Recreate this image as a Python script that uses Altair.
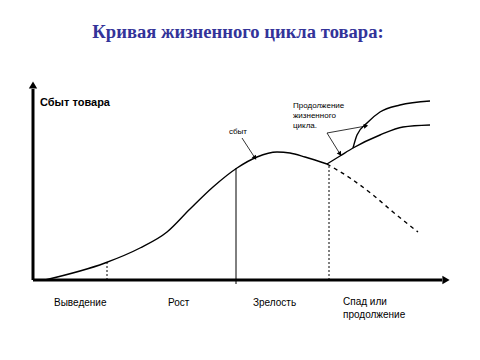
import math
import altair as alt
import pandas as pd

# Diagram coordinates: x = time, y = sales (origin at the axes crossing)
main_x = [12, 72, 107, 134, 157, 180, 204, 224, 244, 257, 272, 294]
main_y = [0, 17, 32, 48, 71, 93, 112, 123, 128, 127, 123, 116]

lower_x = [294, 307, 320, 347, 370, 397]
lower_y = [116, 124, 132, 145, 153, 155]

upper_x = [320, 324, 334, 347, 367, 397]
upper_y = [132, 145, 157, 168, 175, 179]

decline_x = [294, 317, 340, 360, 385]
decline_y = [116, 102, 85, 68, 48]

# stage boundaries
bound_x = [74, 203, 296]
bound_top = [18, 112, 115]
bound_bottom = [0, -4, 0]
bound_dash = ["dashed", "solid", "dashed"]

# axes
axis_len_x = 413
axis_len_y = 195

# annotation arrows (from -> to)
arrow_x1 = [209, 294, 294]
arrow_y1 = [142, 147, 147]
arrow_x2 = [222, 307, 333]
arrow_y2 = [122, 126, 154]

stage_labels = ["Выведение", "Рост", "Зрелость", "Спад или", "продолжение"]
stage_x = [21, 135, 220, 310, 310]
stage_y = [-23, -23, -23, -22, -35]

note_lines = ["Продолжение", "жизненного", "цикла."]
note_x = [260, 260, 260]
note_y = [174, 164, 154]

title_text = "Кривая жизненного цикла товара:"
ylabel_text = "Сбыт товара"
curve_label = "сбыт"

X = alt.Scale(domain=[-25, 439], nice=False, zero=False)
Y = alt.Scale(domain=[-72, 272], nice=False, zero=False)

def xe(f):
    return alt.X(f, type="quantitative", scale=X, axis=None)

def ye(f):
    return alt.Y(f, type="quantitative", scale=Y, axis=None)

def line_df(xs, ys):
    return pd.DataFrame({"x": xs, "y": ys})

main = alt.Chart(line_df(main_x, main_y)).mark_line(
    color="black", strokeWidth=1.4, interpolate="monotone"
).encode(x=xe("x"), y=ye("y"))

lower = alt.Chart(line_df(lower_x, lower_y)).mark_line(
    color="black", strokeWidth=1.4, interpolate="monotone"
).encode(x=xe("x"), y=ye("y"))

upper = alt.Chart(line_df(upper_x, upper_y)).mark_line(
    color="black", strokeWidth=1.4, interpolate="monotone"
).encode(x=xe("x"), y=ye("y"))

decline = alt.Chart(line_df(decline_x, decline_y)).mark_line(
    color="black", strokeWidth=1.4, strokeDash=[4, 4], interpolate="monotone"
).encode(x=xe("x"), y=ye("y"))

bounds = pd.DataFrame({"x": bound_x, "y": bound_bottom, "y2": bound_top, "d": bound_dash})
bound_dashed = alt.Chart(bounds[bounds.d == "dashed"]).mark_rule(
    color="black", strokeWidth=1, strokeDash=[2, 2]
).encode(x=xe("x"), y=ye("y"), y2="y2")
bound_solid = alt.Chart(bounds[bounds.d == "solid"]).mark_rule(
    color="black", strokeWidth=1
).encode(x=xe("x"), y=ye("y"), y2="y2")

axes_df = pd.DataFrame({"x": [0, 0], "y": [0, 0], "x2": [axis_len_x - 4, 0], "y2": [0, axis_len_y - 4]})
axes = alt.Chart(axes_df).mark_rule(color="black", strokeWidth=3).encode(
    x=xe("x"), y=ye("y"), x2="x2", y2="y2"
)
axis_heads = alt.Chart(pd.DataFrame({"x": [axis_len_x, 0], "y": [0, axis_len_y], "a": [90, 0]})).mark_point(
    shape="triangle-up", filled=True, color="black", size=70, opacity=1
).encode(x=xe("x"), y=ye("y"), angle=alt.Angle("a:Q", scale=None))

arr = pd.DataFrame({"x": arrow_x1, "y": arrow_y1, "x2": arrow_x2, "y2": arrow_y2})
arr["a"] = [
    (math.degrees(math.atan2(x2 - x1, y2 - y1)) + 360) % 360
    for x1, y1, x2, y2 in zip(arrow_x1, arrow_y1, arrow_x2, arrow_y2)
]
arrows = alt.Chart(arr).mark_rule(color="black", strokeWidth=0.8).encode(
    x=xe("x"), y=ye("y"), x2="x2", y2="y2"
)
arrow_heads = alt.Chart(arr).mark_point(
    shape="triangle-up", filled=True, color="black", size=25, opacity=1
).encode(x=xe("x2"), y=ye("y2"), angle=alt.Angle("a:Q", scale=None))

stages = alt.Chart(pd.DataFrame({"x": stage_x, "y": stage_y, "t": stage_labels})).mark_text(
    align="left", baseline="middle", fontSize=10, font="Liberation Sans", color="black"
).encode(x=xe("x"), y=ye("y"), text="t:N")

notes = alt.Chart(pd.DataFrame({"x": note_x, "y": note_y, "t": note_lines})).mark_text(
    align="left", baseline="middle", fontSize=8, font="Liberation Sans", color="black"
).encode(x=xe("x"), y=ye("y"), text="t:N")

curve_lbl = alt.Chart(pd.DataFrame({"x": [205], "y": [148], "t": [curve_label]})).mark_text(
    align="center", baseline="middle", fontSize=8, font="Liberation Sans", color="black"
).encode(x=xe("x"), y=ye("y"), text="t:N")

ylbl = alt.Chart(pd.DataFrame({"x": [7], "y": [177], "t": [ylabel_text]})).mark_text(
    align="left", baseline="middle", fontSize=11, fontWeight="bold", font="Liberation Sans", color="black"
).encode(x=xe("x"), y=ye("y"), text="t:N")

title = alt.Chart(pd.DataFrame({"x": [205], "y": [248], "t": [title_text]})).mark_text(
    align="center", baseline="middle", fontSize=18.6, fontWeight="bold", font="Liberation Serif", color="#333399"
).encode(x=xe("x"), y=ye("y"), text="t:N")

chart = alt.layer(
    axes, axis_heads, bound_dashed, bound_solid, main, lower, upper, decline,
    arrows, arrow_heads, stages, notes, curve_lbl, ylbl, title
).properties(
    width=464, height=344, padding=0, autosize="none", background="white"
).configure_view(stroke=None)

chart.save("out.html", embed_options={"renderer": "svg", "actions": False})
